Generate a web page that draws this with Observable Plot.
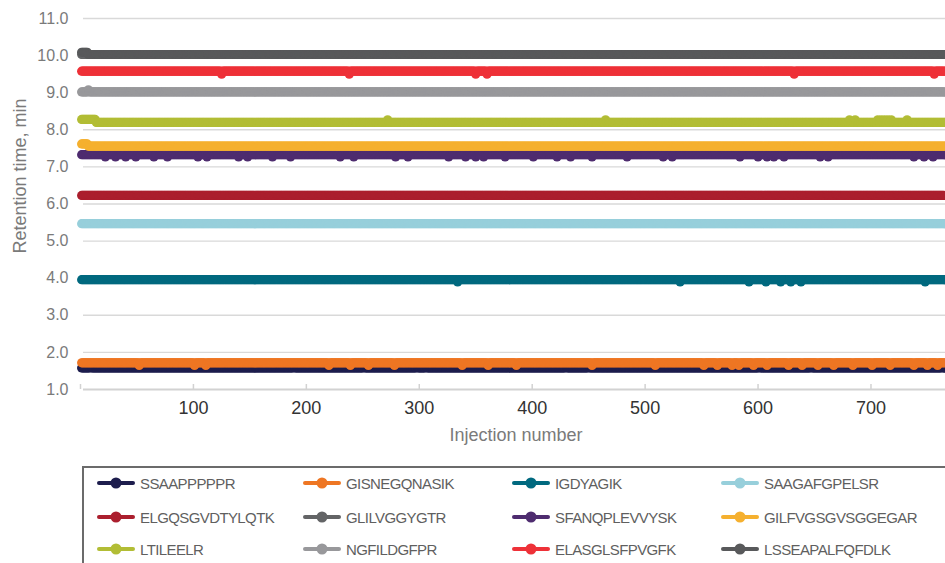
<!DOCTYPE html>
<html><head><meta charset="utf-8">
<script src="https://cdn.jsdelivr.net/npm/d3@7"></script>
<script src="https://cdn.jsdelivr.net/npm/@observablehq/plot@0.6"></script>
<style>
body{margin:0;background:#fff;font-family:"Liberation Sans",Arial,sans-serif;}
#wrap{position:relative;width:945px;height:563px;overflow:hidden;background:#fff;}
#chart svg{display:block;}
#ytitle{position:absolute;left:20px;top:176px;transform:translate(-50%,-50%) rotate(-90deg);white-space:nowrap;font-size:18px;color:#7a7a7a;}
#legend{position:absolute;left:82px;top:466px;width:900px;height:120px;border-top:2px solid #6b6b6b;border-left:2px solid #6b6b6b;}
.item{position:absolute;height:20px;display:flex;align-items:center;font-size:15px;color:#5f5f5f;letter-spacing:-0.6px;white-space:nowrap;}
.item svg{margin-right:5px;}
</style></head><body>
<div id="wrap"><div id="chart"></div><div id="ytitle">Retention time, min</div><div id="legend"></div></div>
<script>
// ---- data ----
const series = ["SSAAPPPPPR","GISNEGQNASIK","IGDYAGIK","SAAGAFGPELSR",
  "ELGQSGVDTYLQTK","GLILVGGYGTR","SFANQPLEVVYSK","GILFVGSGVSGGEGAR",
  "LTILEELR","NGFILDGFPR","ELASGLSFPVGFK","LSSEAPALFQFDLK"];
const colors = ["#1d1d4d","#ee7623","#00697f","#97cfdb",
  "#ab1f2e","#636466","#4e2c6f","#f5b02f",
  "#b2bd35","#98989b","#ee3138","#58595b"];
const nInjections = 766;
// typical (constant) retention time of each peptide, min
const baseValues = [1.58, 1.72, 3.96, 5.47, 6.23, 10.03, 7.33, 7.56, 8.20, 9.02, 9.58, 10.03];
// injections that deviate from the typical value: [injection, retention time]
const deviations = [
  [[9,1.64],[189,1.64],[251,1.64],[298,1.64],[306,1.64],[430,1.64],[450,1.64],[601,1.64],[647,1.64],[763,1.64]],
  [[52,1.65],[101,1.65],[111,1.65],[220,1.65],[239,1.65],[255,1.65],[278,1.65],[338,1.65],[361,1.65],[386,1.65],
   [453,1.65],[509,1.65],[552,1.65],[564,1.65],[577,1.65],[583,1.65],[596,1.65],[608,1.65],[627,1.65],[639,1.65],
   [653,1.65],[667,1.65],[684,1.65],[701,1.65],[717,1.65],[738,1.65],[750,1.65],[759,1.65]],
  [[334,3.90],[531,3.90],[592,3.90],[607,3.90],[620,3.90],[629,3.90],[638,3.90],[748,3.90]],
  [],
  [],
  [],
  [[22,7.27],[31,7.27],[40,7.27],[49,7.27],[65,7.27],[77,7.27],[104,7.27],[112,7.27],[140,7.27],[148,7.27],
   [170,7.27],[186,7.27],[230,7.27],[242,7.27],[279,7.27],[290,7.27],[326,7.27],[341,7.27],[350,7.27],[357,7.27],
   [376,7.27],[401,7.27],[422,7.27],[434,7.27],[453,7.27],[484,7.27],[516,7.27],[524,7.27],[584,7.27],[600,7.27],
   [608,7.27],[614,7.27],[623,7.27],[655,7.27],[662,7.27],[738,7.27],[747,7.27],[755,7.27]],
  [[1,7.62],[2,7.62],[3,7.62],[4,7.62],[5,7.62],[6,7.62]],
  [[1,8.28],[2,8.28],[3,8.28],[4,8.28],[5,8.28],[6,8.28],[7,8.28],[8,8.28],[9,8.28],[10,8.28],[11,8.28],[12,8.28],[13,8.28],
   [272,8.27],[465,8.27],[681,8.27],[686,8.27],[706,8.27],[709,8.27],[712,8.27],[715,8.27],[718,8.27],[732,8.27]],
  [[7,9.08]],
  [[125,9.50],[238,9.50],[350,9.50],[360,9.50],[632,9.50],[756,9.50]],
  [[1,10.09],[2,10.09],[3,10.09],[4,10.09],[5,10.09],[6,10.09]]
];
const yTicks = [1,2,3,4,5,6,7,8,9,10,11];
const xTickLabels = [100,200,300,400,500,600,700];
const xTickMarks = [0,100,200,300,400,500,600,700];

// ---- build table ----
const rowsBySeries = series.map((name, s) => {
  const dev = new Map(deviations[s]);
  const rows = [];
  for (let i = 1; i <= nInjections; i++) rows.push({series: name, injection: i, value: dev.has(i) ? dev.get(i) : baseValues[s]});
  return rows;
});

const width = 945, height = 462, mTop = 18, mBottom = 73, mLeft = 80, mRight = 0;
const yMin = yTicks[0], yMax = yTicks[yTicks.length - 1];
const tickLen = (yMax - yMin) * 5 / (height - mTop - mBottom);

const marks = [
  Plot.ruleY(yTicks.slice(1), {y: d => d, stroke: "#d9d9d9", strokeWidth: 1.4, insetLeft: 3}),
  Plot.ruleY([yMin], {y: d => d, stroke: "#d2d2d2", strokeWidth: 1.8, insetLeft: 3}),
  Plot.ruleX(xTickMarks, {x: d => d, y1: yMin, y2: yMin + tickLen, stroke: "#d2d2d2", strokeWidth: 1.5}),
  Plot.text(yTicks, {y: d => d, text: d => d.toFixed(1), frameAnchor: "left", dx: -12, textAnchor: "end", fontSize: 16, fill: "#7a7a7a"}),
  Plot.text(xTickLabels, {x: d => d, text: d => String(d), frameAnchor: "bottom", dy: 24, fontSize: 18, fill: "#333"}),
  Plot.text(["Injection number"], {text: d => d, frameAnchor: "bottom", dy: 51, dx: 3, fontSize: 18, fill: "#7a7a7a"})
];
series.forEach((name, s) => {
  marks.push(Plot.line(rowsBySeries[s], {x: "injection", y: "value", stroke: colors[s], strokeWidth: 3}));
  marks.push(Plot.dot(rowsBySeries[s], {x: "injection", y: "value", r: 4.6, fill: colors[s], stroke: "none"}));
});

const chart = Plot.plot({
  width, height, marginTop: mTop, marginBottom: mBottom, marginLeft: mLeft, marginRight: mRight,
  x: {domain: [0, nInjections], axis: null},
  y: {domain: [yMin, yMax], axis: null},
  style: {fontFamily: "'Liberation Sans', Arial, sans-serif", background: "white"},
  marks
});
document.getElementById("chart").appendChild(chart);

// ---- legend ----
const legend = document.getElementById("legend");
const colLeft = [13, 219, 428, 637];
const rowCenter = [15, 49, 81];
series.forEach((name, s) => {
  const item = document.createElement("div");
  item.className = "item";
  item.style.left = colLeft[s % 4] + "px";
  item.style.top = (rowCenter[Math.floor(s / 4)] - 10) + "px";
  item.innerHTML = `<svg width="38" height="12"><line x1="2" y1="6" x2="36" y2="6" stroke="${colors[s]}" stroke-width="4" stroke-linecap="round"/><circle cx="19" cy="6" r="5.5" fill="${colors[s]}"/></svg><span>${name}</span>`;
  legend.appendChild(item);
});
</script>
</body></html>
